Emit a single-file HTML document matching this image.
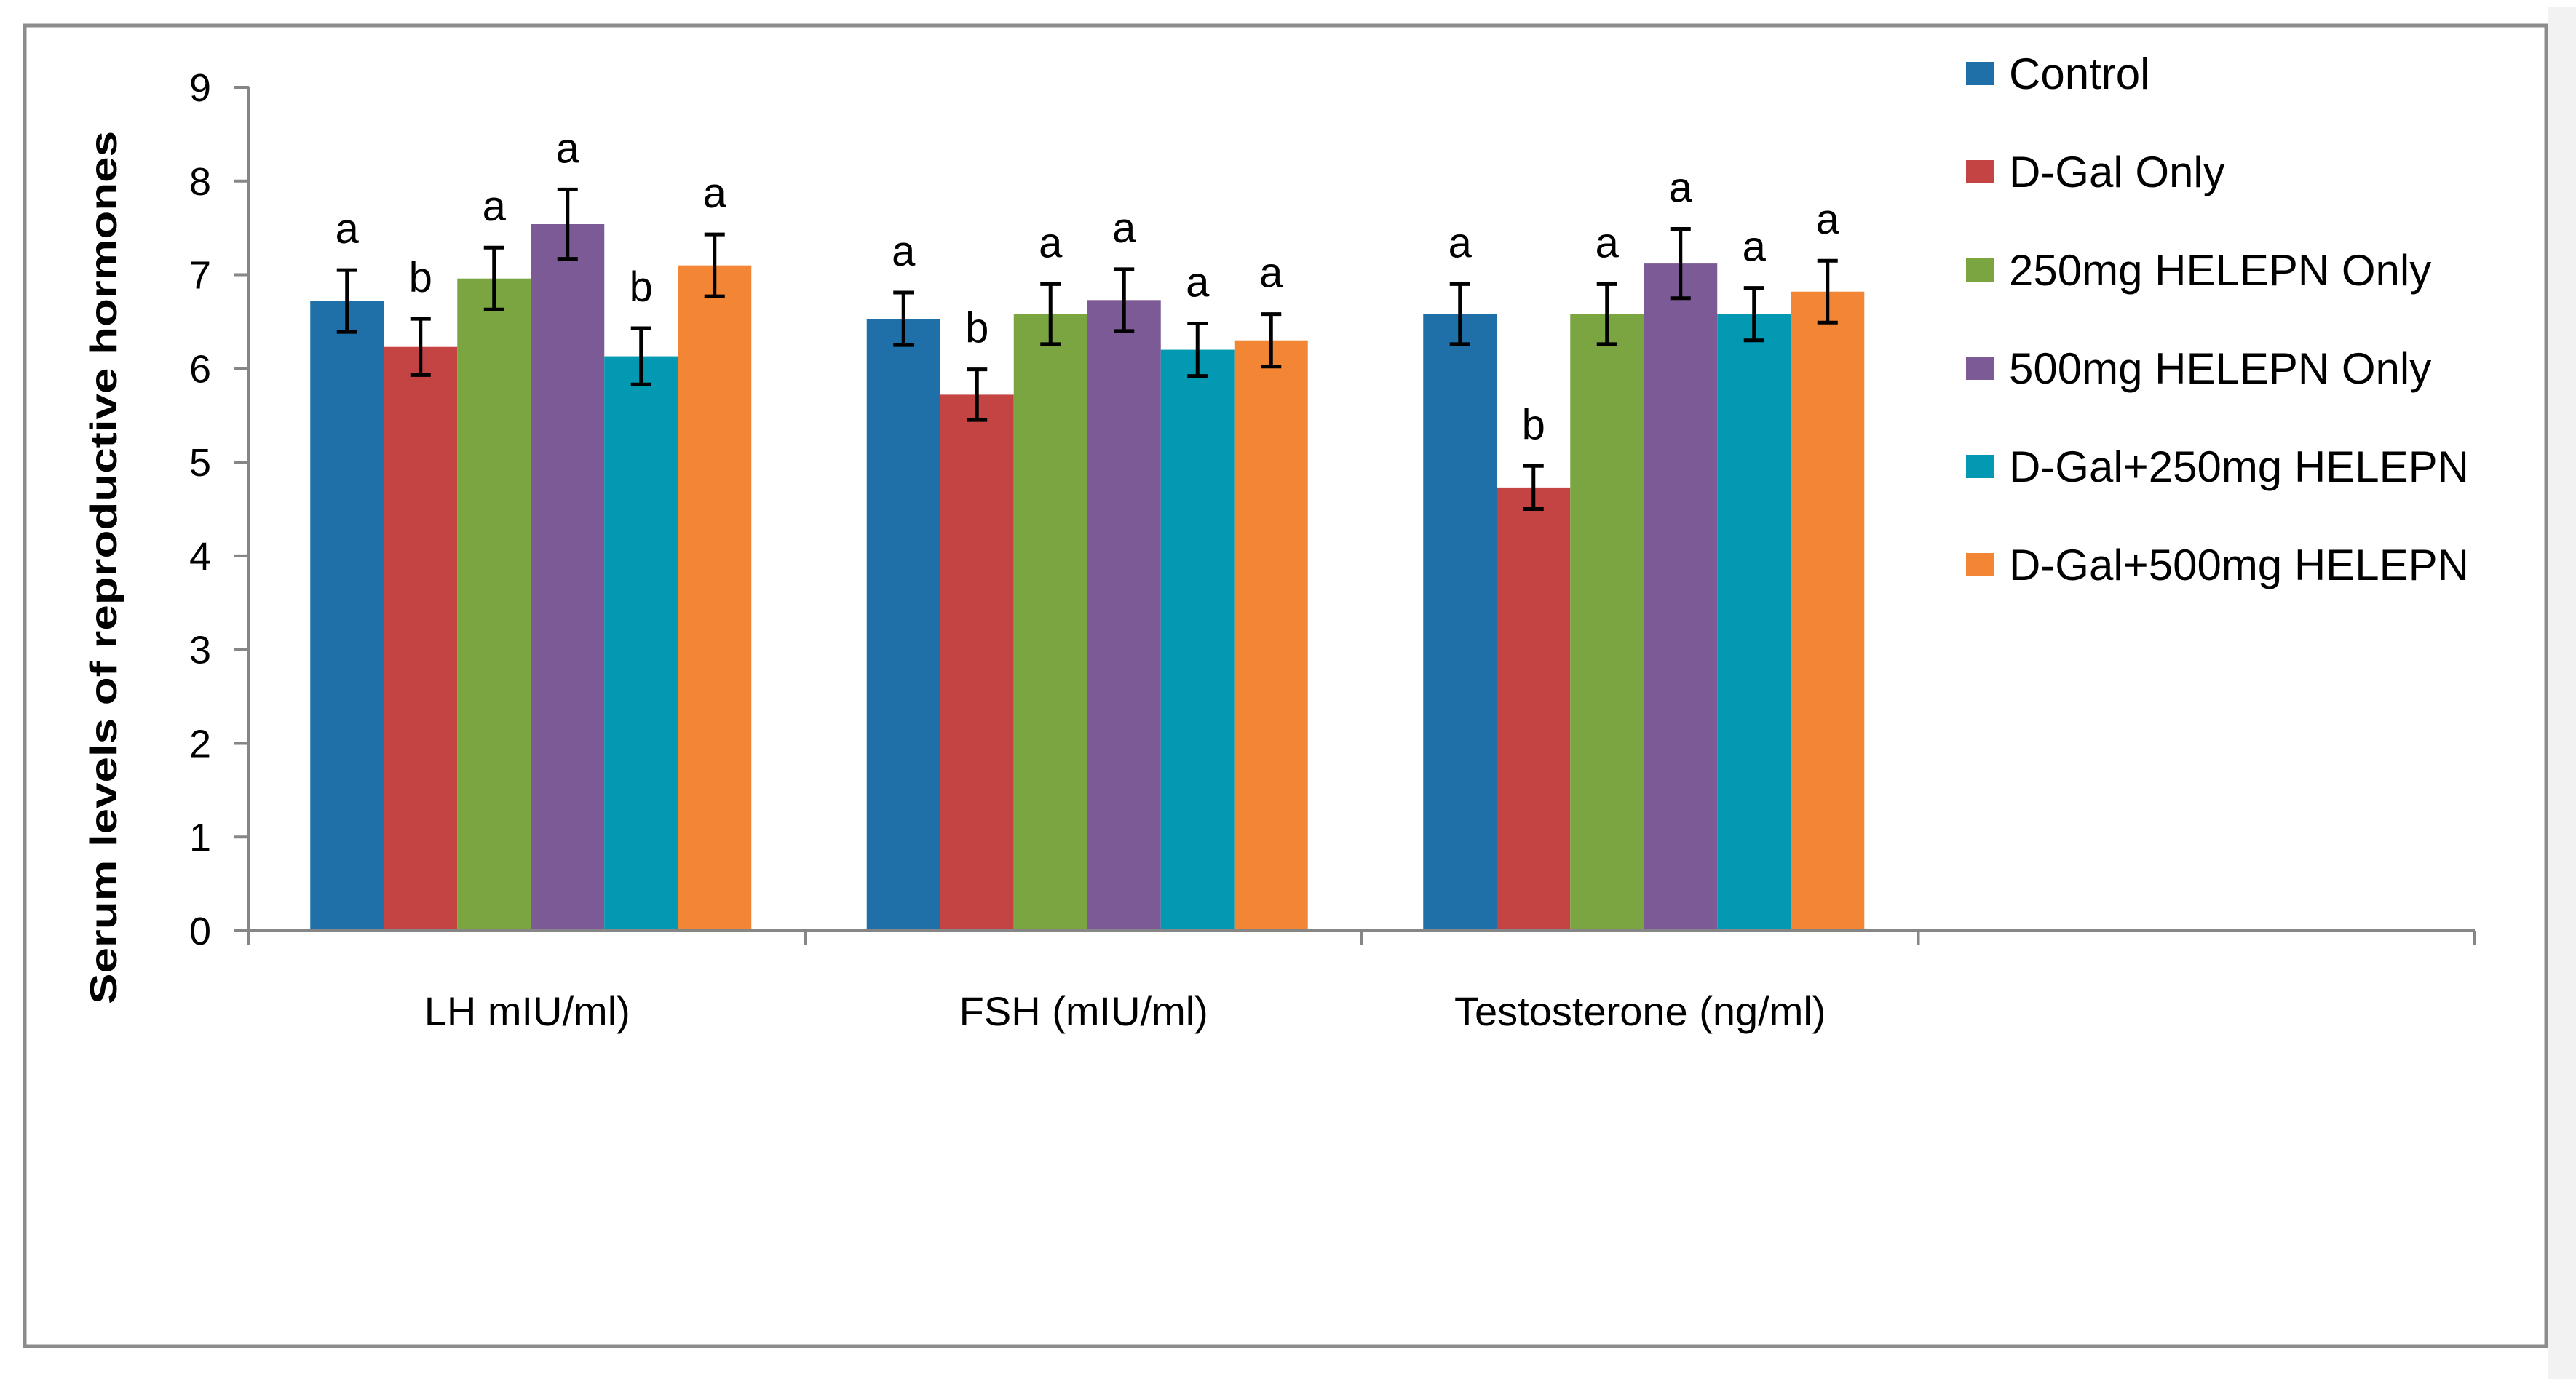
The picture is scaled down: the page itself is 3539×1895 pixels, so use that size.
<!DOCTYPE html>
<html><head><meta charset="utf-8"><style>
html,body{margin:0;padding:0;background:#fff}
svg{display:block;font-family:"Liberation Sans",sans-serif}
</style></head><body>
<svg id="chart" width="3539" height="1895" viewBox="0 0 3539 1895" xmlns="http://www.w3.org/2000/svg">
<rect x="3500" y="10" width="39" height="1885" fill="#f2f2f2"/>
<rect x="34" y="35" width="3464" height="1815" fill="#fff" stroke="#8c8c8c" stroke-width="5"/>
<g id="plot"></g>
<text transform="translate(160,780) rotate(-90)" text-anchor="middle" font-weight="bold" font-size="52" textLength="1200" lengthAdjust="spacingAndGlyphs" fill="#000">Serum levels of reproductive  hormones</text>
<g id="legend"></g>
</svg>
<script>
const categories = ["LH mIU/ml)", "FSH (mIU/ml)", "Testosterone (ng/ml)"];
const seriesNames = ["Control","D-Gal Only","250mg HELEPN Only","500mg HELEPN Only","D-Gal+250mg HELEPN","D-Gal+500mg HELEPN"];
const seriesColors = ["#1f6fa8","#c44444","#7ba540","#7c5a96","#0399b3","#f28634"];
const values = [
  [6.72, 6.53, 6.58],
  [6.23, 5.72, 4.73],
  [6.96, 6.58, 6.58],
  [7.54, 6.73, 7.12],
  [6.13, 6.20, 6.58],
  [7.10, 6.30, 6.82]
];
const errors = [
  [0.33, 0.28, 0.32],
  [0.30, 0.27, 0.23],
  [0.33, 0.32, 0.32],
  [0.37, 0.33, 0.37],
  [0.30, 0.28, 0.28],
  [0.33, 0.28, 0.33]
];
const letters = [
  ["a","a","a"],
  ["b","b","b"],
  ["a","a","a"],
  ["a","a","a"],
  ["b","a","a"],
  ["a","a","a"]
];
const yTicks = [0,1,2,3,4,5,6,7,8,9];
const nSlots = 4;

const NS = "http://www.w3.org/2000/svg";
const X0 = 342, X1 = 3400, Y0 = 1279, Y9 = 120;
const yScale = v => Y0 - (v / 9) * (Y0 - Y9);
const slotW = (X1 - X0) / nSlots;
const barW = 101;
const xBar = (c, s) => X0 + c * slotW + (slotW - barW * seriesNames.length) / 2 + 5 + s * barW;
const plot = document.getElementById('plot');
function mk(tag, attrs, parent) {
  const e = document.createElementNS(NS, tag);
  for (const k in attrs) e.setAttribute(k, attrs[k]);
  (parent || plot).appendChild(e);
  return e;
}
let ax = mk('line', {x1: X0, y1: Y9, x2: X0, y2: Y0, stroke: '#868686', 'stroke-width': 4});


yTicks.forEach(t => {
  const y = yScale(t);
  const tk = mk('line', {x1: X0 - 20, y1: y, x2: X0, y2: y, stroke: '#868686', 'stroke-width': 4});
  
  
  const tl = mk('text', {x: 290, y: y + 19, 'text-anchor': 'end', 'font-size': 54, fill: '#000'});
  tl.textContent = t;
  
  
});
values.forEach((ser, s) => {
  ser.forEach((v, c) => {
    const x = xBar(c, s), y = yScale(v);
    const r = mk('rect', {x: x, y: y, width: barW, height: Y0 - y, fill: seriesColors[s]});
    
    
    const cx = x + barW / 2, e = errors[s][c];
    const yt = yScale(v + e), yb = yScale(v - e);
    const eb = mk('path', {d: `M${cx},${yt}V${yb}M${cx-14},${yt}H${cx+14}M${cx-14},${yb}H${cx+14}`, stroke: '#000', 'stroke-width': 5, fill: 'none'});
    
    
    const lt = mk('text', {x: cx, y: yt - 37, 'text-anchor': 'middle', 'font-size': 58, fill: '#000'});
    lt.textContent = letters[s][c];
    
    
  });
});
let xa = mk('line', {x1: X0, y1: Y0, x2: X1, y2: Y0, stroke: '#868686', 'stroke-width': 4});


for (let i = 0; i <= nSlots; i++) {
  const x = X0 + i * slotW;
  const tk = mk('line', {x1: x, y1: Y0, x2: x, y2: Y0 + 20, stroke: '#868686', 'stroke-width': 4});
  
  
}
categories.forEach((c, i) => {
  const t = mk('text', {x: X0 + (i + 0.5) * slotW, y: 1409, 'text-anchor': 'middle', 'font-size': 56, fill: '#000'});
  t.textContent = c;
  
  
});
const lg = document.getElementById('legend');
seriesNames.forEach((n, i) => {
  const y = 101 + i * 135;
  const sw = mk('rect', {x: 2701, y: y - 16, width: 39, height: 32, fill: seriesColors[i]}, lg);
  
  
  const t = mk('text', {x: 2760, y: y + 21, 'font-size': 60, fill: '#000'}, lg);
  t.textContent = n;
  
  
});
</script>
</body></html>
